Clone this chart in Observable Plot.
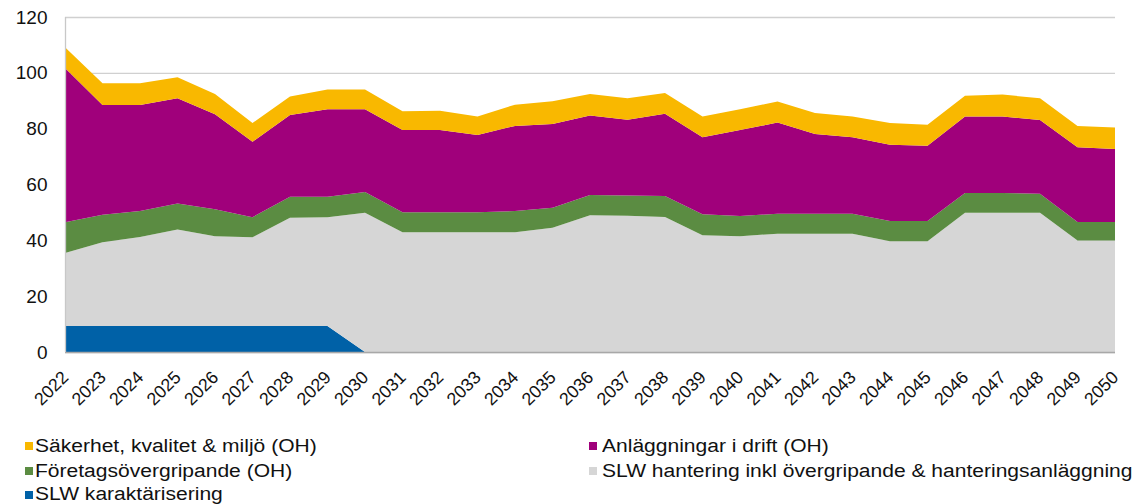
<!DOCTYPE html>
<html>
<head>
<meta charset="utf-8">
<script src="https://cdn.jsdelivr.net/npm/d3@7"></script>
<script src="https://cdn.jsdelivr.net/npm/@observablehq/plot@0.6"></script>
<style>
  html, body { margin: 0; padding: 0; background: #fff; }
  #wrap { position: relative; width: 1145px; height: 504px; overflow: hidden; font-family: "Liberation Sans", Arial, sans-serif; }
  .lg { position: absolute; font-size: 18.8px; color: #111; white-space: nowrap; line-height: 1; }
  .lg .sw { position: absolute; width: 8px; height: 8px; }
  .lg .tx { position: absolute; transform: scaleX(1.12); transform-origin: left center; }
</style>
</head>
<body>
<div id="wrap"></div>
<script>
const years = [2022,2023,2024,2025,2026,2027,2028,2029,2030,2031,2032,2033,2034,2035,2036,2037,2038,2039,2040,2041,2042,2043,2044,2045,2046,2047,2048,2049,2050];

// Series values (stacked bottom to top)
const slwKarakterisering = [9.3,9.3,9.3,9.3,9.3,9.3,9.3,9.3,0,0,0,0,0,0,0,0,0,0,0,0,0,0,0,0,0,0,0,0,0];
const slwHantering = [26.2,30.0,31.9,34.6,32.2,31.8,38.8,39.0,49.9,42.9,42.9,42.9,42.9,44.5,49.0,48.8,48.4,41.8,41.5,42.4,42.4,42.4,39.7,39.7,49.9,49.9,49.9,39.9,39.9];
const foretagsovergripande = [11.0,9.9,9.3,9.3,9.6,7.2,7.5,7.3,7.4,7.2,7.2,7.2,7.6,7.2,7.2,7.3,7.5,7.5,7.2,7.1,7.1,7.1,7.2,7.2,7.1,7.1,6.8,6.7,6.7];
const anlaggningar = [55.2,39.3,38.0,37.7,34.1,27.0,29.3,31.4,29.7,29.4,29.4,27.6,30.5,30.0,28.5,27.1,29.4,27.6,30.8,32.7,28.6,27.4,27.3,27.0,27.4,27.4,26.4,26.7,26.1];
const sakerhet = [7.5,7.8,7.8,7.5,7.2,6.7,6.6,7.0,7.0,6.7,6.9,6.7,7.6,8.1,7.7,7.7,7.5,7.5,7.5,7.5,7.5,7.5,7.8,7.5,7.4,7.8,7.8,7.7,7.7];

const seriesNames = [
  "SLW karaktärisering",
  "SLW hantering inkl övergripande & hanteringsanläggning",
  "Företagsövergripande (OH)",
  "Anläggningar i drift (OH)",
  "Säkerhet, kvalitet & miljö (OH)"
];
const seriesColors = ["#0061a7", "#d6d6d6", "#5b8c42", "#a0007b", "#f9b800"];
const yTicks = [0, 20, 40, 60, 80, 100, 120];

const seriesValues = [slwKarakterisering, slwHantering, foretagsovergripande, anlaggningar, sakerhet];
const data = [];
seriesNames.forEach((name, i) => {
  years.forEach((yr, j) => data.push({year: yr, series: name, value: seriesValues[i][j]}));
});

const chart = Plot.plot({
  width: 1145,
  height: 425,
  marginTop: 17,
  marginLeft: 65,
  marginRight: 30,
  marginBottom: 73,
  style: {fontFamily: "'Liberation Sans', Arial, sans-serif", background: "#fff", color: "#111"},
  x: {type: "linear", domain: [2022, 2050]},
  y: {domain: [0, 120]},
  color: {domain: seriesNames, range: seriesColors},
  marks: [
    Plot.ruleY(yTicks, {stroke: "#d0d0d0", strokeWidth: 1.3}),
    Plot.areaY(data, {x: "year", y: "value", fill: "series", order: seriesNames}),
    Plot.ruleY([0], {stroke: "#a8a8a8", strokeWidth: 1.3}),
    Plot.ruleX([2022], {y1: 0, y2: 120, stroke: "#c8c8c8", strokeWidth: 1.3}),
    Plot.axisY(yTicks, {tickSize: 0, tickPadding: 18, fontSize: 19, label: null}),
    Plot.axisX(years, {tickSize: 0, tickRotate: -45, tickPadding: 22, fontSize: 17.8, tickFormat: d => String(d), label: null})
  ]
});
document.getElementById("wrap").appendChild(chart);

// Legend
const legendItems = [
  {name: seriesNames[4], col: 0, row: 0},
  {name: seriesNames[3], col: 1, row: 0},
  {name: seriesNames[2], col: 0, row: 1},
  {name: seriesNames[1], col: 1, row: 1},
  {name: seriesNames[0], col: 0, row: 2}
];
const colX = [25, 589];
const rowY = [446, 471, 494.5];
const wrap = document.getElementById("wrap");
legendItems.forEach(it => {
  const c = seriesColors[seriesNames.indexOf(it.name)];
  const d = document.createElement("div");
  d.className = "lg";
  d.style.left = colX[it.col] + "px";
  d.style.top = rowY[it.row] + "px";
  const sw = document.createElement("div");
  sw.className = "sw";
  sw.style.background = c;
  sw.style.left = "0px";
  sw.style.top = "-4px";
  const tx = document.createElement("div");
  tx.className = "tx";
  tx.textContent = it.name;
  tx.style.left = (it.col === 0 ? 10 : 13) + "px";
  tx.style.top = "-9.5px";
  d.appendChild(sw);
  d.appendChild(tx);
  wrap.appendChild(d);
});
</script>
</body>
</html>
